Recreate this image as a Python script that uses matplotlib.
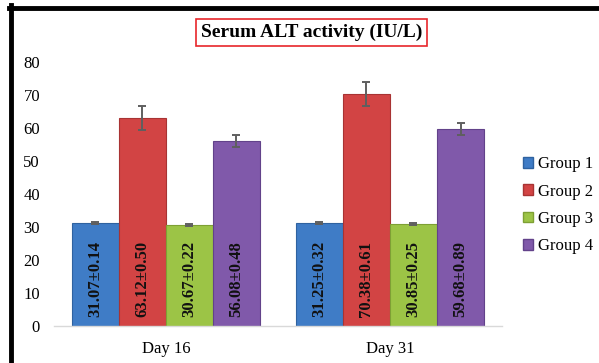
import matplotlib.pyplot as plt
from matplotlib.lines import Line2D
from matplotlib.patches import Patch
import numpy as np

# data
days = ["Day 16", "Day 31"]
groups = ["Group 1", "Group 2", "Group 3", "Group 4"]
means = {
    "Group 1": [31.07, 31.25],
    "Group 2": [63.12, 70.38],
    "Group 3": [30.67, 30.85],
    "Group 4": [56.08, 59.68],
}
sems = {
    "Group 1": [0.14, 0.32],
    "Group 2": [0.50, 0.61],
    "Group 3": [0.22, 0.25],
    "Group 4": [0.48, 0.89],
}
# error bar lengths as drawn (larger than the printed ± values)
err_drawn = {
    "Group 1": [0.3, 0.3],
    "Group 2": [3.6, 3.6],
    "Group 3": [0.3, 0.3],
    "Group 4": [1.8, 1.8],
}
colors = ["#3f7cc6", "#d24444", "#9cc446", "#8059aa"]
edges = ["#2f62a0", "#a83333", "#7ea034", "#62428a"]

plt.rcParams['font.family'] = ['Liberation Serif', 'DejaVu Serif']

fig = plt.figure(figsize=(5.99, 3.63), dpi=100)
ax = fig.add_axes([0.09, 0.102, 0.748, 0.727])

x = np.arange(len(days))
w = 0.21
for i, g in enumerate(groups):
    pos = x + (i - 1.5) * w
    ax.bar(pos, means[g], width=w, color=colors[i], edgecolor=edges[i],
           linewidth=0.8, label=g, zorder=2)
    ax.errorbar(pos, means[g], yerr=err_drawn[g], fmt='none', ecolor='#5f5f5f',
                elinewidth=1.4, capsize=3, capthick=1.4, zorder=3)
    for p, m, s in zip(pos, means[g], sems[g]):
        ax.text(p, 2.6, f"{m:.2f}±{s:.2f}", rotation=90, ha='center', va='bottom',
                fontsize=12, fontweight='bold', color='#111111', zorder=4)

ax.set_xlim(-0.5, 1.5)
ax.set_ylim(0, 80)
ax.set_yticks(range(0, 81, 10))
ax.set_xticks(x)
ax.set_xticklabels(days, fontsize=12)
ax.tick_params(axis='y', length=0, labelsize=12, pad=10)
ax.tick_params(axis='x', length=0, pad=11)
for s in ['top', 'right', 'left']:
    ax.spines[s].set_visible(False)
ax.spines['bottom'].set_color('#d9d9d9')
ax.spines['bottom'].set_linewidth(1.0)

handles = [Patch(facecolor=colors[i], edgecolor=edges[i]) for i in range(4)]
fig.legend(handles, groups, loc='upper left', bbox_to_anchor=(0.862, 0.588),
           frameon=False, fontsize=12, handlelength=0.6, handleheight=0.6,
           handletextpad=0.3, labelspacing=0.68, borderaxespad=0)

fig.text(0.52, 0.91, "Serum ALT activity (IU/L)", ha='center', va='center',
         fontsize=14, fontweight='bold',
         bbox=dict(boxstyle='square,pad=0.25', facecolor='white',
                   edgecolor='#e8262b', linewidth=1.2))

# black frame on left and top
fig.add_artist(Line2D([0.018, 0.018], [0, 0.985], color='black', linewidth=3.5))
fig.add_artist(Line2D([0.015, 1.0], [0.978, 0.978], color='black', linewidth=3.5))

fig.savefig("out.png", dpi=100)
